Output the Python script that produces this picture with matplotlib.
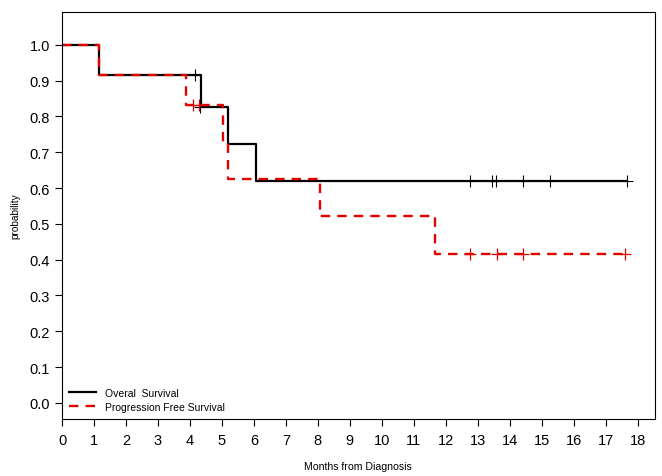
import matplotlib.pyplot as plt
from matplotlib.lines import Line2D

plt.rcParams['font.family'] = ['Liberation Sans', 'DejaVu Sans']

# overall survival (step curve)
os_time = [0, 1.15, 4.33, 5.2, 6.05, 17.65]
os_surv = [1.0, 0.917, 0.825, 0.722, 0.619, 0.619]
os_cens_time = [4.15, 4.3, 12.75, 13.45, 13.57, 14.42, 15.26, 17.65]
os_cens_surv = [0.917, 0.825, 0.619, 0.619, 0.619, 0.619, 0.619, 0.619]

# progression free survival
pfs_time = [0, 1.15, 3.88, 5.03, 5.18, 8.05, 11.65, 17.6]
pfs_surv = [1.0, 0.917, 0.833, 0.729, 0.625, 0.521, 0.417, 0.417]
pfs_cens_time = [4.1, 4.28, 12.77, 13.6, 14.42, 17.6]
pfs_cens_surv = [0.833, 0.833, 0.417, 0.417, 0.417, 0.417]

xticks = list(range(0, 19))
yticks = [0.0, 0.1, 0.2, 0.3, 0.4, 0.5, 0.6, 0.7, 0.8, 0.9, 1.0]

fig = plt.figure(figsize=(6.62, 4.77), dpi=100)
ax = fig.add_axes([0.0937, 0.1195, 0.8953, 0.8535])

ax.step(os_time, os_surv, where='post', color='black', lw=1.6)
ax.plot(os_cens_time, os_cens_surv, ls='none', marker='+', ms=9, mew=0.8, color='black')

ax.step(pfs_time, pfs_surv, where='post', color='#e00000', lw=1.7, dashes=(4, 3))
ax.plot(pfs_cens_time, pfs_cens_surv, ls='none', marker='+', ms=9, mew=0.9, color='#e00000')

ax.set_xlim(0, 18.53)
ax.set_ylim(-0.045, 1.092)
ax.set_xticks(xticks)
ax.set_yticks(yticks)
ax.set_yticklabels(['%.1f' % v for v in yticks])
ax.tick_params(direction='out', length=5, width=0.8, labelsize=10.5)
ax.tick_params(axis='x', pad=5)
for s in ax.spines.values():
    s.set_linewidth(0.8)

ax.set_xlabel('Months from Diagnosis', fontsize=7.6, labelpad=10)
ax.set_ylabel('probability', fontsize=7.3, labelpad=7)

handles = [Line2D([], [], color='black', lw=1.6),
           Line2D([], [], color='#e00000', lw=1.7, dashes=(4, 3))]
ax.legend(handles, ['Overal  Survival', 'Progression Free Survival'],
          loc='lower left', bbox_to_anchor=(0.0, 0.0), frameon=False,
          fontsize=7.5, handlelength=2.6, labelspacing=0.35, borderaxespad=0.3)

fig.savefig('out.png', dpi=100)
